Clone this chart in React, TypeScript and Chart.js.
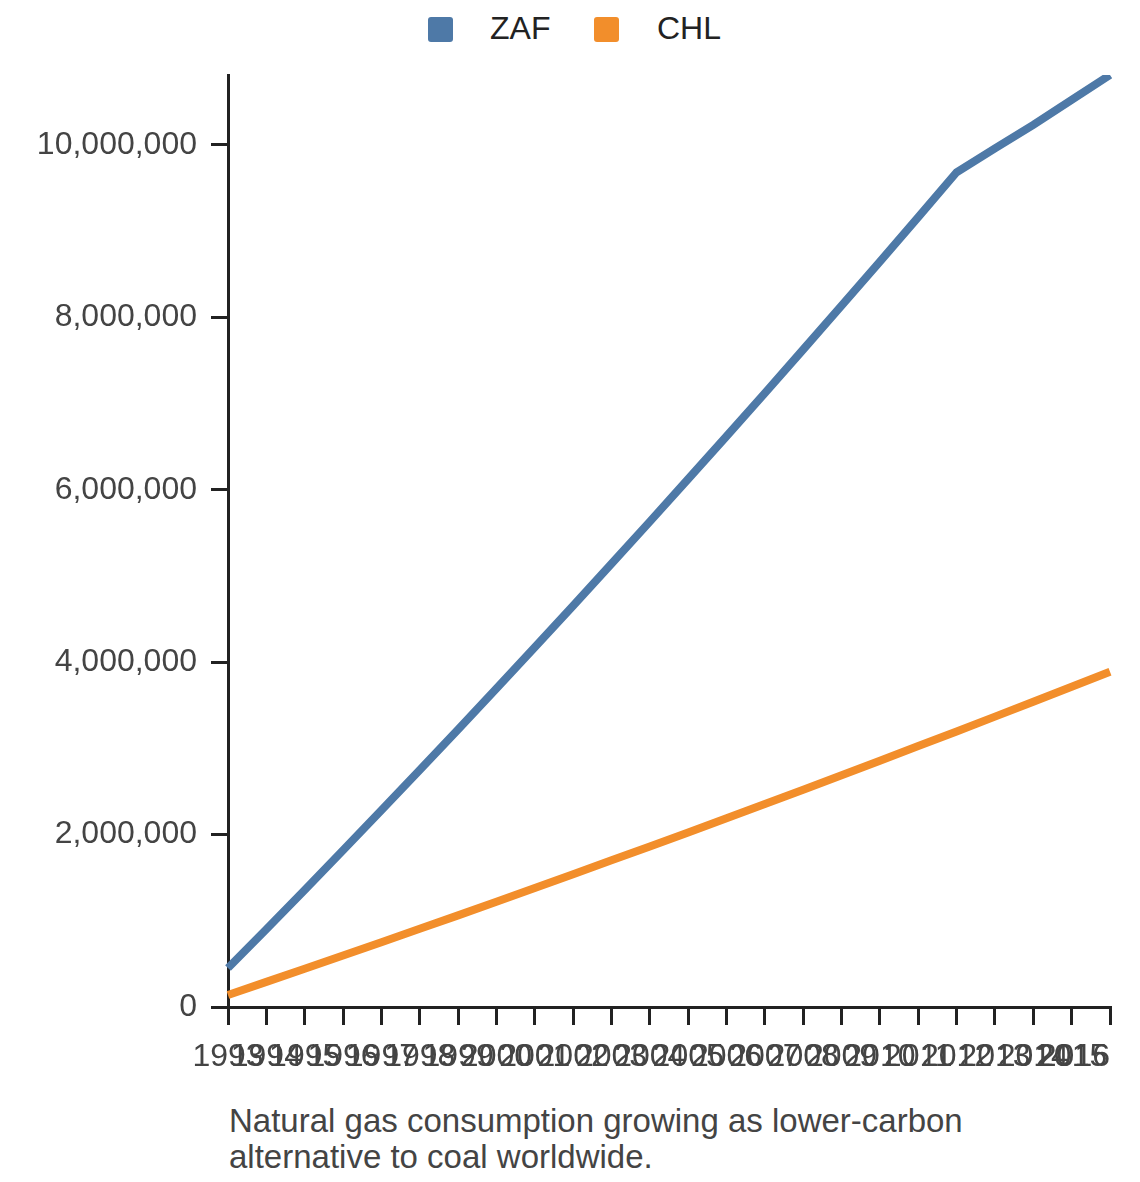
import React, { useEffect, useRef } from 'react';
import { Chart, registerables } from 'chart.js';

Chart.register(...registerables);

const years = [
  '1993', '1994', '1995', '1996', '1997', '1998', '1999', '2000',
  '2001', '2002', '2003', '2004', '2005', '2006', '2007', '2008',
  '2009', '2010', '2011', '2012', '2013', '2014', '2015', '2016',
];

const zafValues = [
  452000, 902000, 1358000, 1818000, 2282000, 2749000, 3220000, 3695000,
  4173000, 4655000, 5141000, 5630000, 6124000, 6620000, 7121000, 7626000,
  8134000, 8646000, 9162000, 9682000, 9958000, 10232000, 10521000, 10810000,
];

const chlValues = [
  140000, 291000, 444000, 597000, 751000, 907000, 1063000, 1221000,
  1380000, 1540000, 1701000, 1862000, 2025000, 2190000, 2355000, 2521000,
  2688000, 2857000, 3026000, 3196000, 3368000, 3541000, 3714000, 3888000,
];

const yTicks = [0, 2000000, 4000000, 6000000, 8000000, 10000000];

const seriesNames = ['ZAF', 'CHL'];
const seriesColors = ['#4e79a7', '#f28e2b'];
const captionLines = [
  'Natural gas consumption growing as lower-carbon',
  'alternative to coal worldwide.',
];

const FONT = "'Liberation Sans', Arial, Helvetica, sans-serif";

const flushLastLabel = {
  id: 'flushLastLabel',
  beforeDraw(chart: any) {
    const scale = chart.scales.x;
    if (!scale || !scale.getLabelItems) return;
    const items = scale.getLabelItems();
    const last = items[items.length - 1];
    if (last) last.options.textAlign = 'right';
  },
};

function LineChart() {
  const ref = useRef<HTMLCanvasElement | null>(null);
  useEffect(() => {
    if (!ref.current) return;
    Chart.defaults.font.family = FONT;
    const chart = new Chart(ref.current, {
      type: 'line',
      data: {
        labels: years,
        datasets: [
          {
            label: seriesNames[0],
            data: zafValues,
            borderColor: seriesColors[0],
            backgroundColor: seriesColors[0],
            borderWidth: 8,
            pointRadius: 0,
            tension: 0,
            fill: false,
          },
          {
            label: seriesNames[1],
            data: chlValues,
            borderColor: seriesColors[1],
            backgroundColor: seriesColors[1],
            borderWidth: 8,
            pointRadius: 0,
            tension: 0,
            fill: false,
          },
        ],
      },
      options: {
        animation: false,
        responsive: true,
        maintainAspectRatio: false,
        layout: { padding: { top: 75, left: 0, right: 0, bottom: 0 } },
        plugins: {
          legend: { display: false },
          tooltip: { enabled: false },
          title: { display: false },
        },
        scales: {
          x: {
            type: 'category',
            offset: false,
            grid: {
              drawOnChartArea: false,
              drawTicks: true,
              tickLength: 18,
              color: '#222',
              lineWidth: 3,
            },
            border: { display: true, color: '#222', width: 3 },
            ticks: {
              autoSkip: false,
              maxRotation: 0,
              minRotation: 0,
              padding: 13,
              color: '#444',
              font: { size: 32, family: FONT },
            },
            afterFit: (scale: any) => {
              scale.height = 93;
              scale.paddingLeft = 0;
              scale.paddingRight = 30;
            },
          },
          y: {
            type: 'linear',
            min: 0,
            max: Math.max(...zafValues),
            grid: {
              drawOnChartArea: false,
              drawTicks: true,
              tickLength: 17,
              color: '#222',
              lineWidth: 3,
            },
            border: { display: true, color: '#222', width: 3 },
            ticks: {
              autoSkip: false,
              padding: 14,
              color: '#444',
              font: { size: 32, family: FONT },
              callback: (v: any) => Number(v).toLocaleString('en-US'),
            },
            afterBuildTicks: (scale: any) => {
              scale.ticks = yTicks.map((v) => ({ value: v }));
            },
            afterFit: (scale: any) => {
              scale.width = 228;
            },
          },
        },
      },
      plugins: [flushLastLabel],
    } as any);
    return () => chart.destroy();
  }, []);
  return <canvas ref={ref} />;
}

export default function App() {
  const textStyle: React.CSSProperties = {
    position: 'absolute',
    fontFamily: FONT,
    fontSize: 32,
    lineHeight: '32px',
    color: '#222',
    whiteSpace: 'nowrap',
  };
  const boxStyle = (left: number, color: string): React.CSSProperties => ({
    position: 'absolute',
    left,
    top: 17,
    width: 25,
    height: 25,
    borderRadius: 3,
    background: color,
  });
  return (
    <div
      style={{
        position: 'fixed',
        left: 0,
        top: 0,
        width: 1140,
        height: 1182,
        background: '#fff',
        overflow: 'hidden',
      }}
    >
      <div style={boxStyle(428, seriesColors[0])} />
      <div style={{ ...textStyle, left: 490, top: 12 }}>{seriesNames[0]}</div>
      <div style={boxStyle(594, seriesColors[1])} />
      <div style={{ ...textStyle, left: 657, top: 12 }}>{seriesNames[1]}</div>
      <div style={{ position: 'absolute', left: 0, top: 0, width: 1140, height: 1100 }}>
        <LineChart />
      </div>
      <div
        style={{
          position: 'absolute',
          left: 229,
          top: 1103,
          fontFamily: FONT,
          fontSize: 33,
          lineHeight: '36px',
          color: '#444',
          whiteSpace: 'nowrap',
        }}
      >
        {captionLines.map((l) => (
          <div key={l}>{l}</div>
        ))}
      </div>
    </div>
  );
}
